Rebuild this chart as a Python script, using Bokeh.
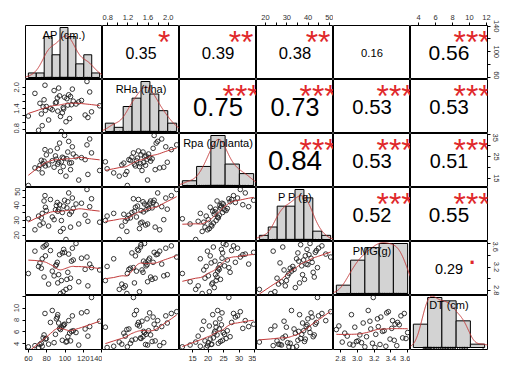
import numpy as np
from bokeh.plotting import figure
from bokeh.layouts import gridplot
from bokeh.models import Range1d, LinearAxis, FixedTicker, PrintfTickFormatter
from bokeh.core.properties import value
from bokeh.embed import file_html
from bokeh.resources import INLINE

# ---------------- data (read/estimated from the picture) ----------------
labels = ["AP (cm.)", "RHa (t/ha)", "Rpa (g/planta)", "P P (g)", "PMG(g)", "DT (cm)"]

AP = [101, 59.8, 95, 115, 71, 125, 98, 75, 106, 82, 137.9, 67, 105, 88, 72.5,
      96, 78.5, 92, 74, 76, 93, 102, 107, 86, 97, 77, 90.5, 79.5, 122, 118,
      103, 98.5, 89.5, 91.5, 112, 129, 94, 109, 78, 127, 84, 124, 99.5, 108, 104]
RHa = [1.03, 1.19, 1.18, 1.59, 0.79, 1.15, 1.43, 0.92, 1.74, 1.08, 1.48, 1.83, 1.12, 1.91, 1.55,
       0.755, 1.35, 1.33, 1.25, 1.45, 1.98, 1.68, 1.51, 1.37, 1.28, 1.65, 1.58, 1.46, 1.22, 1.63,
       1.50, 1.39, 1.56, 1.70, 1.53, 1.31, 1.76, 1.61, 2.06, 1.87, 1.41, 2.165, 1.72, 1.95, 1.79]
Rpa = [16.0, 11.7, 18.1, 14.2, 19.4, 16.8, 20.4, 17.5, 19.0, 21.2, 18.6, 19.8, 22.0, 20.1, 21.0,
       22.6, 20.7, 21.5, 23.3, 21.7, 22.4, 24.0, 22.2, 23.1, 24.7, 22.9, 23.8, 25.8, 23.6, 24.5,
       27.1, 24.3, 25.3, 28.8, 24.9, 26.7, 31.2, 26.2, 28.2, 33.1, 27.6, 30.4, 34.7, 29.5, 32.0]
PP = [17.1, 31.0, 22.5, 27.5, 32.8, 29.3, 24.4, 34.6, 25.4, 26.1, 28.7, 23.6, 34.0, 30.4, 26.8,
      29.8, 38.7, 36.0, 31.6, 28.1, 37.4, 38.3, 35.6, 32.2, 35.2, 42.9, 39.9, 36.5, 33.4, 41.4,
      42.4, 39.5, 37.0, 41.9, 40.9, 44.4, 40.4, 37.9, 46.5, 39.1, 43.9, 50.6, 43.4, 44.9, 48.3]
PMG = [2.82, 3.09, 2.75, 2.95, 3.21, 2.88, 2.78, 3.34, 3.01, 2.91, 3.15, 3.47, 2.85, 3.05, 3.27,
       2.97, 3.39, 2.93, 3.18, 3.54, 3.07, 2.99, 3.30, 3.13, 3.44, 3.03, 3.24, 3.58, 3.16, 3.35,
       3.11, 3.50, 3.22, 3.28, 3.60, 3.19, 3.41, 3.32, 3.56, 3.25, 3.48, 3.37, 3.45, 3.52, 3.42]
DT = [4.3, 3.5, 6.4, 3.8, 3.39, 5.3, 7.0, 3.6, 4.5, 3.95, 7.8, 3.7, 5.8, 4.2, 3.9,
      6.8, 4.8, 8.9, 4.1, 5.0, 7.5, 4.4, 6.1, 9.6, 4.6, 5.5, 8.2, 4.9, 6.5, 9.2,
      5.2, 7.2, 5.6, 8.5, 5.9, 11.78, 6.6, 6.2, 9.1, 6.9, 7.6, 9.4, 7.3, 8.7, 7.9]
variables = [AP, RHa, Rpa, PP, PMG, DT]

hist_breaks = [
    [50, 60, 70, 80, 90, 100, 110, 120, 130, 140],
    [0.6, 0.8, 1.0, 1.2, 1.4, 1.6, 1.8, 2.0, 2.2],
    [10, 15, 20, 25, 30, 35],
    [15, 20, 25, 30, 35, 40, 45, 50, 55],
    [2.6, 2.8, 3.0, 3.2, 3.4, 3.6],
    [2, 4, 6, 8, 10, 12],
]

# upper triangle, row by row
cor_values = [0.35, 0.39, 0.38, 0.16, 0.56,
              0.75, 0.73, 0.53, 0.53,
              0.84, 0.53, 0.51,
              0.52, 0.55,
              0.29]
cor_signif = ["*", "**", "**", "", "***",
              "***", "***", "***", "***",
              "***", "***", "***",
              "***", "***",
              "."]

# axis ticks: (labelled ticks, unlabelled ticks)
x_ticks = [
    ([60, 80, 100, 120, 140], []),
    ([0.8, 1.2, 1.6, 2.0], [1.0, 1.4, 1.8]),
    ([15, 20, 25, 30, 35], []),
    ([20, 30, 40, 50], [25, 35, 45]),
    ([2.8, 3.0, 3.2, 3.4, 3.6], []),
    ([4, 6, 8, 10, 12], []),
]
y_ticks = [
    ([60, 100, 140], [80, 120]),
    ([0.8, 1.4, 2.0], [1.0, 1.2, 1.6, 1.8]),
    ([15, 25, 35], [20, 30]),
    ([20, 30, 40, 50], [25, 35, 45]),
    ([2.8, 3.2, 3.6], [3.0, 3.4]),
    ([4, 6, 8, 10], [12]),
]
tick_formats = ["%d", "%.1f", "%d", "%d", "%.1f", "%d"]

# ---------------- style ----------------
FONT = "Liberation Sans"
SMOOTH = "#c23a3a"
STAR = "#e0282b"
PW, PH = 77, 54
TB, BB, LB, RB = 25, 20, 25, 20
N = len(variables)


def ext(lo, hi, f=0.04):
    d = (hi - lo) * f
    return lo - d, hi + d


def kde(v):
    v = np.asarray(v, float)
    n = len(v)
    q75, q25 = np.percentile(v, [75, 25])
    bw = 0.9 * min(v.std(ddof=1), (q75 - q25) / 1.34) * n ** (-0.2)
    xs = np.linspace(v.min() - 3 * bw, v.max() + 3 * bw, 512)
    ys = np.exp(-0.5 * ((xs[:, None] - v[None, :]) / bw) ** 2).sum(axis=1) / (n * bw * np.sqrt(2 * np.pi))
    return xs, ys


def lowess(x, y, f=2 / 3, it=3):
    x = np.asarray(x, float)
    y = np.asarray(y, float)
    o = np.argsort(x, kind="mergesort")
    x, y = x[o], y[o]
    n = len(x)
    ns = max(min(int(f * n + 1e-7), n), 2)
    rw = np.ones(n)
    ys = np.zeros(n)
    for k in range(it + 1):
        for i in range(n):
            d = np.abs(x - x[i])
            h = np.sort(d)[ns - 1]
            w = np.zeros(n)
            if h > 0:
                r = d / h
                w = np.where(r < 0.999, (1 - np.clip(r, 0, 1) ** 3) ** 3, 0.0)
                w[d <= 0.001 * h] = 1.0
            else:
                w[d == 0] = 1.0
            w = w * rw
            sw = w.sum()
            if sw <= 0:
                ys[i] = y[i]
                continue
            a = (w * x).sum() / sw
            b = (w * (x - a) ** 2).sum()
            ym = (w * y).sum() / sw
            if np.sqrt(b / sw) > 0.001 * (x[-1] - x[0]):
                beta = (w * (x - a) * y).sum() / b
                ys[i] = ym + beta * (x[i] - a)
            else:
                ys[i] = ym
        if k == it:
            break
        res = np.abs(y - ys)
        cmad = 6 * np.median(res)
        if cmad < 1e-7 * np.mean(np.abs(y)):
            break
        u = res / cmad
        rw = np.where(u < 0.999, (1 - np.clip(u, 0, 1) ** 2) ** 2, 0.0)
        rw[res <= 0.001 * cmad] = 1.0
    return x, ys


def make_axis(major, minor, fmt, side):
    allt = list(major) + list(minor)
    ax = LinearAxis(ticker=FixedTicker(ticks=major, minor_ticks=minor),
                    formatter=PrintfTickFormatter(format=fmt),
                    bounds=(min(allt), max(allt)))
    ax.axis_line_color = "black"
    ax.axis_line_width = 1
    ax.major_tick_in = 0
    ax.major_tick_out = 3
    ax.minor_tick_in = 0
    ax.minor_tick_out = 3
    ax.major_tick_line_color = "black"
    ax.minor_tick_line_color = "black"
    ax.major_label_text_font = FONT
    ax.major_label_text_font_size = "7.5px"
    ax.major_label_text_color = "#303030"
    ax.major_label_standoff = 3
    if side in ("left", "right"):
        ax.major_label_orientation = "vertical"
    return ax


var_range = [ext(min(v), max(v)) for v in variables]

rows = []
cidx = 0
for i in range(N):
    row = []
    for j in range(N):
        if i == j:
            br = np.array(hist_breaks[i], float)
            cnt, _ = np.histogram(variables[i], bins=br)
            dens = cnt / (len(variables[i]) * np.diff(br))
            xr = ext(br[0], br[-1])
            yr = ext(0, dens.max())
        else:
            xr = var_range[j]
            yr = var_range[i]
        p = figure(frame_width=PW, frame_height=PH,
                   x_range=Range1d(*xr), y_range=Range1d(*yr),
                   toolbar_location=None, output_backend="svg", title=None,
                   x_axis_location=None, y_axis_location=None,
                   min_border=0,
                   min_border_left=LB if j == 0 else 0,
                   min_border_right=RB if j == N - 1 else 0,
                   min_border_top=TB if i == 0 else 0,
                   min_border_bottom=BB if i == N - 1 else 0,
                   outline_line_color="black", outline_line_width=1,
                   background_fill_color="white", border_fill_color="white")
        p.grid.visible = False
        p.extra_x_ranges = {"u": Range1d(0, 1)}
        p.extra_y_ranges = {"u": Range1d(0, 1)}

        if i == j:
            p.quad(left=br[:-1], right=br[1:], bottom=0, top=dens,
                   fill_color="#d3d3d3", line_color="black", line_width=1)
            xs, ys = kde(variables[i])
            p.line(xs, ys, line_color=SMOOTH, line_width=1)
            v = np.asarray(variables[i], float)
            p.segment(x0=v, y0=yr[0], x1=v, y1=yr[0] + 0.05 * (yr[1] - yr[0]),
                      line_color="black", line_width=0.8)
            p.text(x=[0.5], y=[0.833], text=[labels[i]], x_range_name="u", y_range_name="u",
                   text_font=value(FONT), text_font_size=value("11px"),
                   text_align="center", text_baseline="middle", text_color="black")
        elif i > j:
            x = variables[j]
            y = variables[i]
            p.scatter(x, y, marker="circle", size=4.6, fill_color=None,
                      line_color="#202020", line_width=0.9)
            lx, ly = lowess(x, y)
            p.line(lx, ly, line_color=SMOOTH, line_width=1)
        else:
            r = cor_values[cidx]
            s = cor_signif[cidx]
            cidx += 1
            fs = 24.4 * (abs(r) + 0.3)
            p.text(x=[0.5], y=[0.5], text=[f"{r:.2f}"], x_range_name="u", y_range_name="u",
                   text_font=value(FONT), text_font_size=value(f"{fs:.1f}px"),
                   text_align="center", text_baseline="middle", text_color="black")
            if s == ".":
                p.text(x=[0.8], y=[0.79], text=[s], x_range_name="u", y_range_name="u",
                       text_font=value(FONT), text_font_size=value("31.7px"),
                       text_align="center", text_baseline="alphabetic", text_color=STAR)
            elif s:
                p.text(x=[0.8], y=[0.69], text=[s], x_range_name="u", y_range_name="u",
                       text_font=value(FONT), text_font_size=value("31.7px"),
                       text_align="center", text_baseline="middle", text_color=STAR)

        # outer axes as in pairs()
        if i == 0 and j % 2 == 1:
            p.add_layout(make_axis(*x_ticks[j], tick_formats[j], "above"), "above")
        if i == N - 1 and j % 2 == 0:
            p.add_layout(make_axis(*x_ticks[j], tick_formats[j], "below"), "below")
        if j == 0 and i % 2 == 1:
            p.add_layout(make_axis(*y_ticks[i], tick_formats[i], "left"), "left")
        if j == N - 1 and i % 2 == 0:
            p.add_layout(make_axis(*y_ticks[i], tick_formats[i], "right"), "right")
        row.append(p)
    rows.append(row)

grid = gridplot(rows, toolbar_location=None)
open("out.html", "w").write(file_html(grid, INLINE))
